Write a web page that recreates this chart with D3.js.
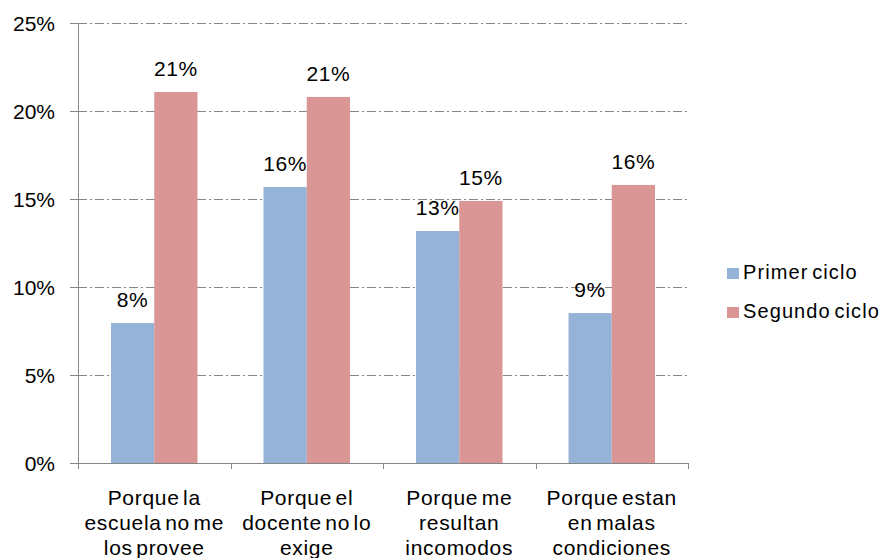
<!DOCTYPE html>
<html>
<head>
<meta charset="utf-8">
<script src="https://cdn.jsdelivr.net/npm/d3@7"></script>
<style>
  body { margin: 0; background: #fff; }
  svg text { font-family: "Liberation Sans", Arial, sans-serif; fill: #000; }
</style>
</head>
<body>
<svg id="chart" width="888" height="558"></svg>
<script>
var categories = [
  ["Porque la", "escuela no me", "los provee"],
  ["Porque el", "docente no lo", "exige"],
  ["Porque me", "resultan", "incomodos"],
  ["Porque estan", "en malas", "condiciones"]
];
var seriesNames = ["Primer ciclo", "Segundo ciclo"];
var primerCiclo = [0.0795, 0.1568, 0.1318, 0.0852];
var segundoCiclo = [0.2108, 0.2080, 0.1489, 0.1580];
var yTicks = [0, 0.05, 0.10, 0.15, 0.20, 0.25];
var colors = ["#95b3d7", "#d99694"];

var svg = d3.select("#chart"),
  margin = {top: 23, left: 78},
  width = 610,
  height = 440,
  g = svg.append("g").attr("transform", "translate(" + margin.left + "," + margin.top + ")");

var x0 = d3.scaleBand().domain(d3.range(categories.length)).range([0, width]);
var x1 = d3.scaleBand().domain(d3.range(seriesNames.length)).range([33, x0.bandwidth() - 33]);
var y = d3.scaleLinear().domain([0, 0.25]).range([height, 0]);

// gridlines (dash-dot)
g.selectAll("line.grid")
  .data(yTicks.slice(1))
  .enter().append("line")
    .attr("class", "grid")
    .attr("x1", 0).attr("x2", width)
    .attr("y1", function (d) { return Math.round(y(d)) + 0.5; })
    .attr("y2", function (d) { return Math.round(y(d)) + 0.5; })
    .attr("stroke", "#868686")
    .attr("stroke-width", 1)
    .attr("stroke-dasharray", "9,3,2,3");

// bars
var data = categories.map(function (c, i) { return [primerCiclo[i], segundoCiclo[i]]; });
var groups = g.selectAll("g.cat")
  .data(data)
  .enter().append("g")
    .attr("transform", function (d, i) { return "translate(" + x0(i) + ",0)"; });

groups.selectAll("rect")
  .data(function (d) { return d; })
  .enter().append("rect")
    .attr("x", function (d, j) { return x1(j); })
    .attr("y", function (d) { return y(d); })
    .attr("width", x1.bandwidth())
    .attr("height", function (d) { return height - y(d); })
    .attr("fill", function (d, j) { return colors[j]; });

groups.selectAll("text.val")
  .data(function (d) { return d; })
  .enter().append("text")
    .attr("class", "val")
    .attr("x", function (d, j) { return x1(j) + x1.bandwidth() / 2; })
    .attr("y", function (d) { return y(d) - 16; })
    .attr("text-anchor", "middle")
    .style("font-size", "21px")
    .style("letter-spacing", "0.6px")
    .text(function (d) { return Math.round(d * 100) + "%"; });

// y axis
var yAxis = g.append("g")
  .call(d3.axisLeft(y).tickValues(yTicks).tickSize(8).tickFormat(function (d) { return Math.round(d * 100) + "%"; }));
yAxis.select(".domain").attr("stroke", "#868686").attr("d", "M0.5," + height + "V0");
yAxis.selectAll(".tick line").attr("stroke", "#868686");
yAxis.selectAll(".tick text")
  .attr("x", -23)
  .attr("dy", "0.35em")
  .attr("fill", "#000")
  .style("font-size", "21px")
  .style("font-family", "Liberation Sans, Arial, sans-serif");

// x axis
var xAxisG = g.append("g").attr("transform", "translate(0," + height + ")");
xAxisG.append("line").attr("x1", 0).attr("x2", width).attr("y1", 0.5).attr("y2", 0.5).attr("stroke", "#868686");
xAxisG.selectAll("line.xt")
  .data(d3.range(categories.length + 1))
  .enter().append("line")
    .attr("x1", function (i) { return Math.round(i * x0.bandwidth()) + 0.5; })
    .attr("x2", function (i) { return Math.round(i * x0.bandwidth()) + 0.5; })
    .attr("y1", 0).attr("y2", 6)
    .attr("stroke", "#868686");

var labels = xAxisG.selectAll("text.cat")
  .data(categories)
  .enter().append("text")
    .attr("class", "cat")
    .attr("text-anchor", "middle")
    .style("font-size", "21px")
    .style("letter-spacing", "0.7px")
    .style("word-spacing", "-3px")
    .attr("transform", function (d, i) { return "translate(" + (x0(i) + x0.bandwidth() / 2) + ",0)"; });
labels.selectAll("tspan")
  .data(function (d) { return d; })
  .enter().append("tspan")
    .attr("x", 0)
    .attr("y", function (d, k) { return 42 + k * 25; })
    .text(function (d) { return d; });

// legend
var legend = svg.append("g").attr("transform", "translate(727,268)");
seriesNames.forEach(function (name, i) {
  legend.append("rect")
    .attr("x", 0).attr("y", i * 39)
    .attr("width", 12).attr("height", 11)
    .attr("fill", colors[i]);
  legend.append("text")
    .attr("x", 16).attr("y", i * 39 + 11)
    .style("font-size", "20px")
    .style("letter-spacing", "1.1px")
    .style("word-spacing", "-3px")
    .text(name);
});
</script>
</body>
</html>
